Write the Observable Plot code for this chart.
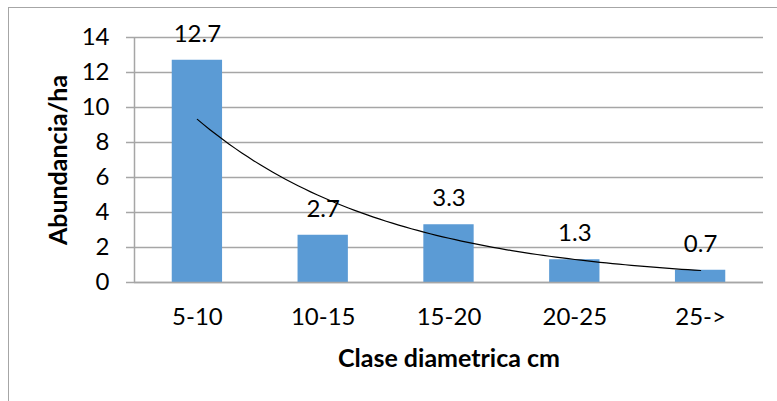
<!DOCTYPE html>
<html>
<head>
<meta charset="utf-8">
<script src="https://cdn.jsdelivr.net/npm/d3@7"></script>
<script src="https://cdn.jsdelivr.net/npm/@observablehq/plot@0.6"></script>
<style>
  html, body { margin: 0; padding: 0; background: #fff; }
  #chart { position: relative; width: 777px; height: 401px; overflow: hidden; }
  #chart .border { position: absolute; left: 8px; top: 7px; width: 800px; height: 420px;
    border-left: 1px solid #a6a6a6; border-top: 1px solid #a6a6a6; box-sizing: border-box; }
  #chart svg { position: absolute; left: 0; top: 0; }
</style>
</head>
<body>
<div id="chart"><div class="border"></div></div>
<script>
// Diameter classes and abundance per hectare
const categories = ["5-10", "10-15", "15-20", "20-25", "25->"];
const abundance = [12.7, 2.7, 3.3, 1.3, 0.7];
const yTicks = [0, 2, 4, 6, 8, 10, 12, 14];
const yTitle = "Abundancia/ha";
const xTitle = "Clase diametrica cm";

const data = categories.map((c, i) => ({pos: i + 1, label: c, value: abundance[i]}));

// Exponential trendline y = a·e^(b·x), least squares on ln(y)
const mx = d3.mean(data, d => d.pos);
const my = d3.mean(data, d => Math.log(d.value));
const b = d3.sum(data, d => (d.pos - mx) * (Math.log(d.value) - my)) /
          d3.sum(data, d => (d.pos - mx) ** 2);
const a = Math.exp(my - b * mx);
const trend = d3.range(1, 5.0001, 0.05).map(x => ({x, y: a * Math.exp(b * x)}));

const halfBar = 0.2; // gap width 150%: bar = 1 / 2.5 of the category band
const grey = "#a6a6a6";
const fs = 24;

const chart = Plot.plot({
  width: 777,
  height: 401,
  marginLeft: 134,
  marginRight: 14,
  marginTop: 37,
  marginBottom: 119,
  style: {fontFamily: "Lato, 'Open Sans', sans-serif", fontSize: fs + "px", color: "#000", background: "transparent"},
  x: {type: "linear", domain: [0.5, 5.5]},
  y: {domain: [0, 14]},
  marks: [
    Plot.gridY(yTicks, {stroke: grey, strokeOpacity: 1, strokeWidth: 1.5}),
    Plot.axisY(yTicks, {tickSize: 8, tickPadding: 17, stroke: grey, strokeWidth: 1.5, label: null, fontSize: fs}),
    Plot.ruleX([0.5], {y1: 0, y2: 14, stroke: grey, strokeWidth: 1.5}),
    Plot.rectY(data, {x1: d => d.pos - halfBar, x2: d => d.pos + halfBar, y1: 0, y2: "value", fill: "#5b9bd5"}),
    Plot.ruleY([0], {stroke: grey, strokeWidth: 1.5}),
    Plot.line(trend, {x: "x", y: "y", stroke: "#000", strokeWidth: 1.2, curve: "linear"}),
    Plot.text(data, {x: "pos", y: "value", text: d => d.value.toFixed(1), dy: -26, fontSize: fs, fill: "#000"}),
    Plot.axisX(data.map(d => d.pos), {tickSize: 0, tickPadding: 25, tickFormat: p => categories[p - 1], label: null, fontSize: fs}),
    Plot.text([yTitle], {frameAnchor: "left", textAnchor: "middle", lineAnchor: "middle", dx: -76, rotate: -90, fontWeight: "bold", fontSize: 25, fill: "#000"}),
    Plot.text([xTitle], {frameAnchor: "bottom", textAnchor: "middle", lineAnchor: "middle", dy: 76, fontWeight: "bold", fontSize: 25, fill: "#000"})
  ]
});

document.getElementById("chart").appendChild(chart);
</script>
</body>
</html>
